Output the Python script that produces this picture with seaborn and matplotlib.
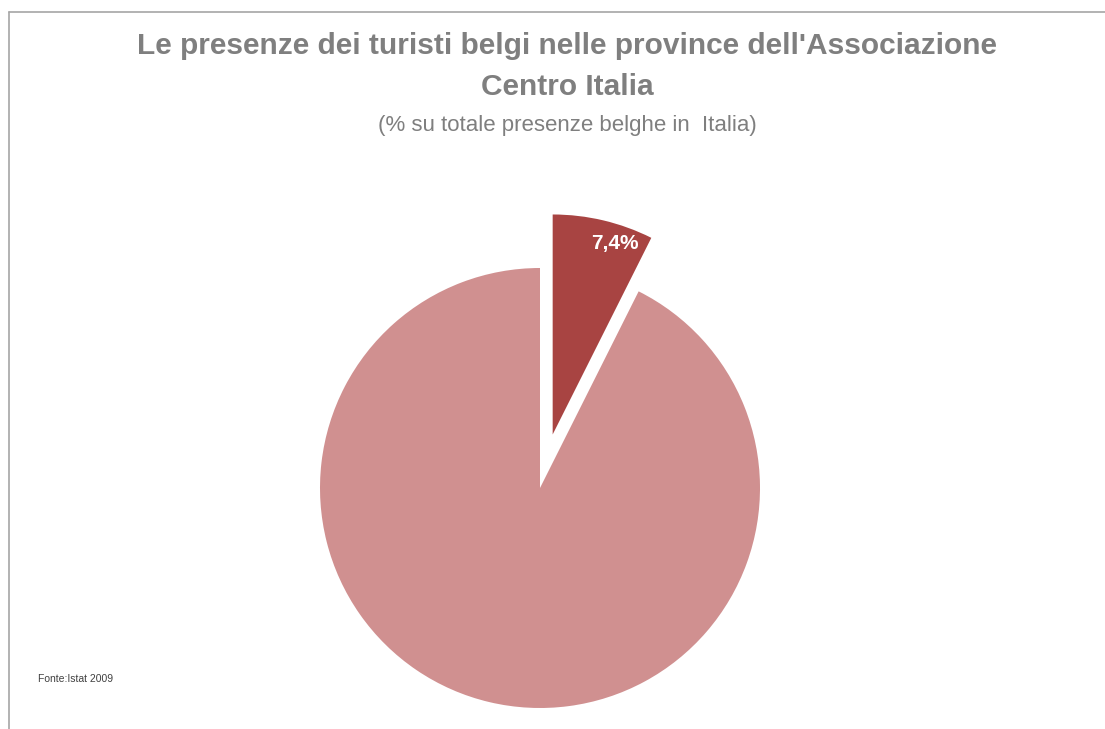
import matplotlib
matplotlib.use("Agg")
import matplotlib.pyplot as plt
from matplotlib.lines import Line2D
import seaborn as sns

# Shares of Belgian tourist nights in Italy (%)
areas = ["Associazione Centro Italia", "Resto d'Italia"]
shares = [7.4, 92.6]
colors = ["#A84442", "#D09090"]
explode = [0.25, 0.0]

sns.set_theme(style="white")
plt.rcParams["font.family"] = ["Liberation Sans Narrow", "Liberation Sans", "DejaVu Sans"]

fig = plt.figure(figsize=(11.05, 7.29), dpi=100)
fig.patch.set_facecolor("white")

# frame lines along the top and left edges
fig.add_artist(Line2D([9 / 1105, 1.0], [1 - 12 / 729, 1 - 12 / 729],
                      transform=fig.transFigure, color="#A6A6A6", lw=1.2))
fig.add_artist(Line2D([9 / 1105, 9 / 1105], [0.0, 1 - 12 / 729],
                      transform=fig.transFigure, color="#A6A6A6", lw=1.2))

ax = fig.add_axes([320 / 1105, 21 / 729, 440 / 1105, 440 / 729])


def fmt(pct):
    if pct < 50:
        return f"{pct:.1f}%".replace(".", ",")
    return ""


wedges, texts, autotexts = ax.pie(
    shares, colors=colors, explode=explode, startangle=90, counterclock=False,
    autopct=fmt, pctdistance=0.93, radius=1.0,
    wedgeprops=dict(linewidth=0), textprops=dict(color="white", fontsize=15,
                                                  fontweight="bold"),
)
for w in wedges:
    w.set_clip_on(False)
for t in autotexts:
    t.set_clip_on(False)
    x, y = t.get_position()
    t.set_position((x + 0.068, y - 0.036))
ax.set_xlim(-1, 1)
ax.set_ylim(-1, 1)
ax.set_aspect("equal")
ax.axis("off")

fig.text(567 / 1105, 1 - 46 / 729,
         "Le presenze dei turisti belgi nelle province dell'Associazione",
         ha="center", va="center", fontsize=21.5, fontweight="bold", color="#7F7F7F")
fig.text(567 / 1105, 1 - 87 / 729, "Centro Italia",
         ha="center", va="center", fontsize=21.5, fontweight="bold", color="#7F7F7F")
fig.text(567 / 1105, 1 - 126 / 729, "(% su totale presenze belghe in  Italia)",
         ha="center", va="center", fontsize=16, color="#7F7F7F")
fig.text(38 / 1105, 1 - 679 / 729, "Fonte:Istat 2009",
         ha="left", va="center", fontsize=7.5, color="#404040")

fig.savefig("out.png", dpi=100, facecolor="white")
